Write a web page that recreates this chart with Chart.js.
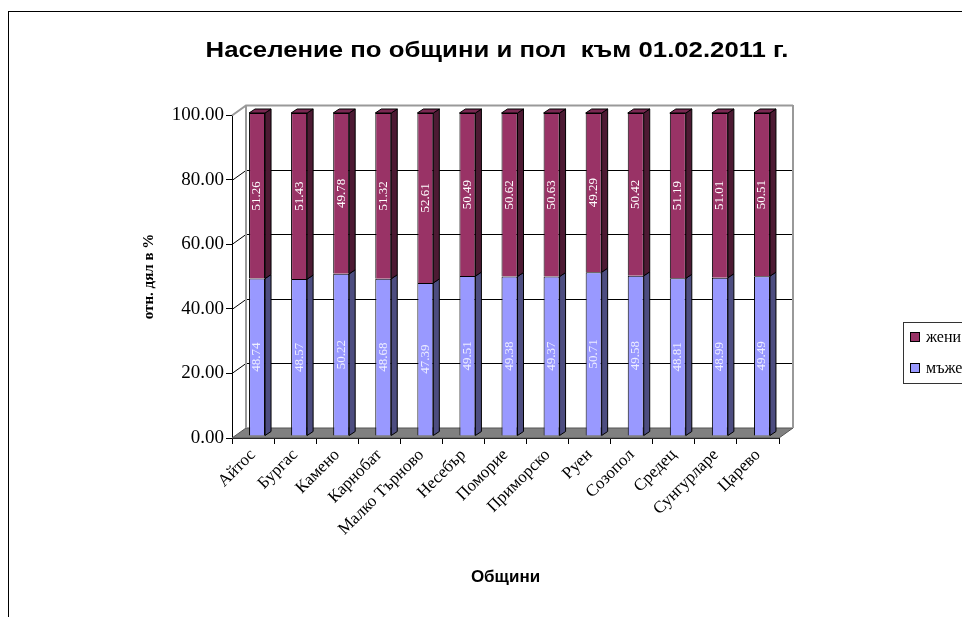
<!DOCTYPE html>
<html>
<head>
<meta charset="utf-8">
<script src="https://cdn.jsdelivr.net/npm/chart.js@4"></script>
<style>
  html, body { margin: 0; padding: 0; background: #fff; overflow: hidden; width: 962px; height: 617px; }
  #wrap { position: relative; width: 962px; height: 617px; }
  #chart { position: absolute; left: 0; top: 0; }
  #frame { position: absolute; left: 8px; top: 11px; width: 1000px; height: 700px; border-left: 1px solid #000; border-top: 1px solid #000; }
  #title { position: absolute; left: 0; top: 36px; width: 994px; text-align: center; white-space: pre; font: bold 22px "Liberation Sans", Arial, sans-serif; line-height: 28px; transform: scaleX(1.17); transform-origin: 497px 0; }
  #legend { position: absolute; left: 903px; top: 322px; width: 100px; height: 60px; border: 1px solid #333; font: 16px "Liberation Serif", serif; }
  .li { position: absolute; left: 6px; white-space: nowrap; }
  .sw { display: inline-block; width: 8px; height: 8px; border: 1px solid #000; margin-right: 6px; vertical-align: 0px; }
</style>
</head>
<body>
<div id="wrap">
  <div id="frame"></div>
  <canvas id="chart" width="962" height="617"></canvas>
  <div id="title">Население по общини и пол  към 01.02.2011 г.</div>
  <div id="legend">
    <div class="li" style="top:5px"><span class="sw" style="background:#993366"></span>жени</div>
    <div class="li" style="top:36px"><span class="sw" style="background:#9999ff"></span>мъже</div>
  </div>
</div>
<script>
// общини и дялове (%)
const municipalities = ["Айтос", "Бургас", "Камено", "Карнобат", "Малко Търново", "Несебър", "Поморие", "Приморско", "Руен", "Созопол", "Средец", "Сунгурларе", "Царево"];
const men = [48.74, 48.57, 50.22, 48.68, 47.39, 49.51, 49.38, 49.37, 50.71, 49.58, 48.81, 48.99, 49.49];
const women = [51.26, 51.43, 49.78, 51.32, 52.61, 50.49, 50.62, 50.63, 49.29, 50.42, 51.19, 51.01, 50.51];
const yTicks = [0, 20, 40, 60, 80, 100];

// отместване на задната стена и дълбочина на стълбовете
const WALL_DX = 14, WALL_DY = -10;
const BAR_DX = 6, BAR_DY = -4;
const BAR_SHIFT_X = 4, BAR_SHIFT_Y = -2;

const wallPlugin = {
  id: "wall3d",
  beforeDatasetsDraw(chart) {
    const { ctx, chartArea: a, scales } = chart;
    const y = scales.y;
    ctx.save();
    // под
    ctx.fillStyle = "#808080";
    ctx.beginPath();
    ctx.moveTo(a.left, a.bottom);
    ctx.lineTo(a.right, a.bottom);
    ctx.lineTo(a.right + WALL_DX, a.bottom + WALL_DY);
    ctx.lineTo(a.left + WALL_DX, a.bottom + WALL_DY);
    ctx.closePath();
    ctx.fill();
    ctx.strokeStyle = "#555";
    ctx.lineWidth = 1;
    ctx.stroke();
    // линии на мрежата
    yTicks.forEach((v) => {
      if (v === 0) return;
      const py = Math.round(y.getPixelForValue(v)) + 0.5;
      ctx.strokeStyle = v === 100 ? "#999" : "#000";
      ctx.lineWidth = v === 100 ? 2 : 1;
      ctx.beginPath();
      ctx.moveTo(a.left, py);
      ctx.lineTo(a.left + WALL_DX, py + WALL_DY);
      ctx.lineTo(a.right + WALL_DX, py + WALL_DY);
      ctx.stroke();
    });
    // ръбове на стената
    ctx.strokeStyle = "#999";
    ctx.lineWidth = 2;
    ctx.beginPath();
    ctx.moveTo(a.left + WALL_DX, a.top + WALL_DY);
    ctx.lineTo(a.left + WALL_DX, a.bottom + WALL_DY);
    ctx.moveTo(a.right + WALL_DX, a.top + WALL_DY);
    ctx.lineTo(a.right + WALL_DX, a.bottom + WALL_DY);
    ctx.stroke();
    ctx.restore();
    // стълбовете стоят малко навътре в дълбочина
    ctx.save();
    ctx.translate(BAR_SHIFT_X, BAR_SHIFT_Y);
  },
  afterDatasetsDraw(chart) {
    const { ctx } = chart;
    const sides = ["#4d4d80", "#4d1a33"];
    ctx.lineWidth = 1;
    ctx.strokeStyle = "#000";
    chart.data.datasets.forEach((ds, di) => {
      chart.getDatasetMeta(di).data.forEach((bar) => {
        const half = bar.width / 2;
        const x1 = bar.x + half, x0 = bar.x - half;
        const top = bar.y, bottom = bar.base;
        ctx.fillStyle = sides[di];
        ctx.beginPath();
        ctx.moveTo(x1, bottom);
        ctx.lineTo(x1, top);
        ctx.lineTo(x1 + BAR_DX, top + BAR_DY);
        ctx.lineTo(x1 + BAR_DX, bottom + BAR_DY);
        ctx.closePath();
        ctx.fill();
        ctx.stroke();
        if (di === 1) {
          ctx.fillStyle = "#7a2952";
          ctx.beginPath();
          ctx.moveTo(x0, top);
          ctx.lineTo(x0 + BAR_DX, top + BAR_DY);
          ctx.lineTo(x1 + BAR_DX, top + BAR_DY);
          ctx.lineTo(x1, top);
          ctx.closePath();
          ctx.fill();
          ctx.stroke();
        }
      });
    });
    // стойности, завъртени вертикално
    ctx.font = '13px "Liberation Serif", serif';
    ctx.textAlign = "center";
    ctx.textBaseline = "middle";
    chart.data.datasets.forEach((ds, di) => {
      ctx.fillStyle = di === 0 ? "#eeeeff" : "#ffffff";
      chart.getDatasetMeta(di).data.forEach((bar, i) => {
        const cy = (bar.y + bar.base) / 2;
        ctx.save();
        ctx.translate(bar.x, cy);
        ctx.rotate(-Math.PI / 2);
        ctx.fillText(ds.data[i].toFixed(2), 0, 0);
        ctx.restore();
      });
    });
    ctx.restore();
  },
};

new Chart(document.getElementById("chart"), {
  type: "bar",
  data: {
    labels: municipalities,
    datasets: [
      { label: "мъже", data: men, backgroundColor: "#9999ff", borderColor: "#000", borderWidth: 1 },
      { label: "жени", data: women, backgroundColor: "#993366", borderColor: "#000", borderWidth: 1 },
    ],
  },
  options: {
    responsive: false,
    animation: false,
    devicePixelRatio: 1,
    layout: { padding: { left: 136, top: 115, right: 183, bottom: 20 } },
    datasets: { bar: { barPercentage: 0.38, categoryPercentage: 1 } },
    plugins: { legend: { display: false }, tooltip: { enabled: false }, title: { display: false } },
    scales: {
      x: {
        stacked: true,
        afterFit: (s) => { s.height = 159; },
        grid: { offset: true, drawOnChartArea: false, color: "#000", tickLength: 6 },
        border: { color: "#000" },
        ticks: {
          autoSkip: false, maxRotation: 45, minRotation: 45, padding: 1, color: "#000",
          font: { family: "Liberation Serif", size: 17 },
        },
        title: {
          display: true, text: "Общини", color: "#000", padding: { top: 4, bottom: 9 },
          font: { family: "Liberation Sans", size: 17, weight: "bold" },
        },
      },
      y: {
        stacked: true,
        min: 0, max: 100,
        afterFit: (s) => { s.width = 96; },
        afterBuildTicks: (s) => { s.ticks = yTicks.map((v) => ({ value: v })); },
        grid: { drawOnChartArea: false, color: "#000", tickLength: 6 },
        border: { color: "#000" },
        ticks: {
          padding: 2, color: "#000",
          font: { family: "Liberation Serif", size: 19 },
          callback: (v) => Number(v).toFixed(2),
        },
        title: {
          display: true, text: "отн. дял в %", color: "#000",
          font: { family: "Liberation Serif", size: 15, weight: "bold" },
        },
      },
    },
  },
  plugins: [wallPlugin],
});
</script>
</body>
</html>
